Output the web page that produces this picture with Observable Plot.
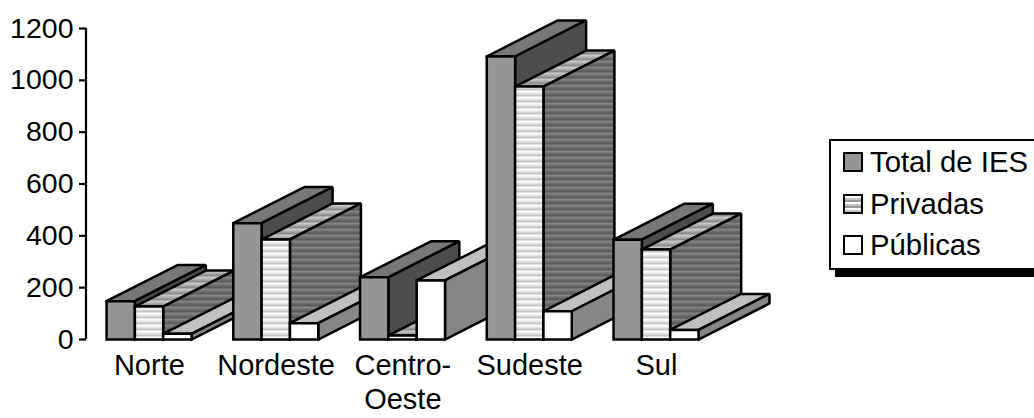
<!DOCTYPE html>
<html lang="pt">
<head>
<meta charset="utf-8">
<script src="https://cdn.jsdelivr.net/npm/d3@7"></script>
<script src="https://cdn.jsdelivr.net/npm/@observablehq/plot@0.6"></script>
<style>
  html, body { margin: 0; padding: 0; background: #fff; overflow: hidden; }
  #chart { position: relative; width: 1034px; height: 418px; overflow: hidden;
           font-family: "Liberation Sans", Arial, sans-serif; }
  #chart > svg { display: block; position: absolute; left: 0; top: 0; }
  #legend { position: absolute; left: 829px; top: 139px; width: 230px; height: 127px;
            border: 2px solid #000; background: #fff; box-shadow: 6px 7px 0 #000; box-sizing: content-box; }
  #legend .row { position: absolute; left: 12px; height: 32px; line-height: 32px;
                 font-size: 29.3px; white-space: nowrap; color: #000; }
  #legend .sw { position: absolute; left: 0; top: 6px; box-sizing: border-box; width: 20px; height: 20px;
                border: 2.6px solid #000; }
  #legend .lb { position: absolute; left: 27px; top: 0; }
</style>
</head>
<body>
<div id="chart"></div>
<script>
// Instituições de ensino superior por região
const regioes = ["Norte", "Nordeste", "Centro-\nOeste", "Sudeste", "Sul"];
const totalIES = [148, 449, 240, 1092, 385];
const privadas = [127, 386, 15, 976, 347];
const publicas = [22, 63, 228, 109, 37];
const tickValores = [0, 200, 400, 600, 800, 1000, 1200];

// Projected depth of the pseudo-3D boxes, in axis units
const depthX = 0.56;
const depthY = 139;
const barWidth = 0.2235;
const barStart = 0.162;

const series = [
  {name: "Total de IES", values: totalIES, front: "#969696", top: "#777777", side: "#4d4d4d"},
  {name: "Privadas", values: privadas, front: "url(#stripeFront)", top: "url(#stripeTop)", side: "url(#stripeSide)"},
  {name: "Públicas", values: publicas, front: "#ffffff", top: "#c0c0c0", side: "#868686"}
];

function face(points, fill) {
  return Plot.line(points, {
    x: "x", y: "y", fill, stroke: "#000", strokeWidth: 2.5,
    strokeLinejoin: "miter", strokeLinecap: "square"
  });
}

// Boxes are painted left to right so nearer groups overlap the depth of earlier ones
const boxes = regioes.flatMap((_, g) =>
  series.flatMap((s, k) => {
    const x0 = g + barStart + k * barWidth;
    const x1 = x0 + barWidth;
    const v = s.values[g];
    const poly = (pts) => pts.concat([pts[0]]).map(([x, y]) => ({x, y}));
    return [
      face(poly([[x0, v], [x1, v], [x1 + depthX, v + depthY], [x0 + depthX, v + depthY]]), s.top),
      face(poly([[x1, 0], [x1 + depthX, depthY], [x1 + depthX, v + depthY], [x1, v]]), s.side),
      face(poly([[x0, 0], [x1, 0], [x1, v], [x0, v]]), s.front)
    ];
  })
);

const chart = Plot.plot({
  width: 1034,
  height: 418,
  marginLeft: 86,
  marginTop: 28,
  marginBottom: 79,
  marginRight: 315,
  style: {fontFamily: '"Liberation Sans", Arial, sans-serif', background: "#fff", overflow: "visible"},
  x: {domain: [0, 5], range: [85.5, 719.25]},
  y: {domain: [0, 1200], range: [339, 28]},
  marks: [
    Plot.axisY({
      ticks: tickValores, tickSize: 7, tickPadding: 6, fontSize: 28.5, stroke: "#000", strokeWidth: 2.2,
      tickFormat: (d) => String(d), label: null, fill: "#000"
    }),
    Plot.ruleX([0], {y1: 0, y2: 1200, stroke: "#000", strokeWidth: 2.2}),
    Plot.axisX({
      ticks: regioes.map((_, i) => i + 0.5), tickSize: 0, tickPadding: 11, fontSize: 29, lineHeight: 1.18,
      tickFormat: (d) => regioes[Math.floor(d)], label: null, fill: "#000"
    }),
    ...boxes
  ]
});

// Horizontal hatching used by the "Privadas" faces
const defs = d3.select(chart).insert("defs", ":first-child");
function stripes(id, colors) {
  const p = defs.append("pattern").attr("id", id).attr("patternUnits", "userSpaceOnUse")
    .attr("width", 8).attr("height", colors.length * 2);
  colors.forEach((c, i) => p.append("rect").attr("x", 0).attr("y", i * 2)
    .attr("width", 8).attr("height", 2).attr("fill", c));
}
stripes("stripeFront", ["#ffffff", "#e6e6e6", "#c4c4c4"]);
stripes("stripeTop", ["#c8c8c8", "#aaaaaa", "#8c8c8c"]);
stripes("stripeSide", ["#848484", "#6c6c6c", "#5a5a5a"]);

const root = document.getElementById("chart");
root.appendChild(chart);

// Legend box with its drop shadow
const legend = d3.select(root).append("div").attr("id", "legend");
const swatches = [
  "background:#969696",
  "background:repeating-linear-gradient(#fff 0 2px,#c4c4c4 2px 4px,#9a9a9a 4px 6px)",
  "background:#fff"
];
series.forEach((s, i) => {
  const row = legend.append("div").attr("class", "row").style("top", `${5 + i * 41.5}px`);
  row.append("span").attr("class", "sw").attr("style", swatches[i]);
  row.append("span").attr("class", "lb").text(s.name);
});
</script>
</body>
</html>
